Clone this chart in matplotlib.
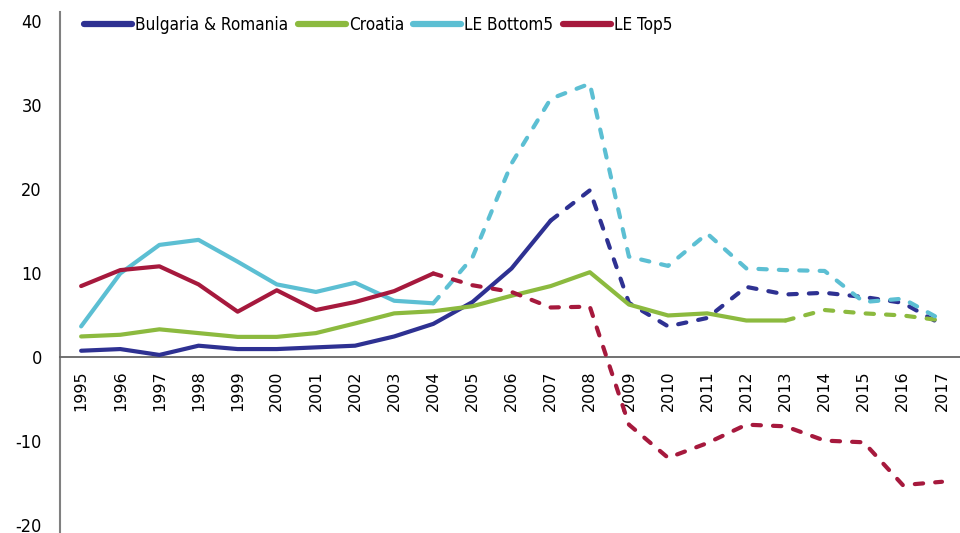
import matplotlib
matplotlib.use("Agg")
import matplotlib.pyplot as plt
from matplotlib import font_manager as fm
from matplotlib.lines import Line2D

years = [str(y) for y in range(1995, 2018)]

bulgaria_romania = [0.7, 0.9, 0.2, 1.3, 0.9, 0.9, 1.1, 1.3, 2.4, 3.9, 6.5, 10.5, 16.2, 19.8,
                    6.4, 3.6, 4.6, 8.3, 7.4, 7.6, 7.1, 6.4, 3.8]
croatia = [2.4, 2.6, 3.25, 2.8, 2.35, 2.35, 2.8, 3.95, 5.15, 5.4, 6.0, 7.25, 8.4, 10.05,
           6.2, 4.9, 5.15, 4.3, 4.3, 5.55, 5.15, 4.9, 4.3]
le_bottom5 = [3.6, 9.9, 13.3, 13.9, 11.3, 8.6, 7.7, 8.8, 6.65, 6.35, 11.8, 23.0, 30.7, 32.5,
              11.9, 10.8, 14.65, 10.5, 10.3, 10.2, 6.5, 6.9, 4.35]
le_top5 = [8.4, 10.3, 10.75, 8.6, 5.35, 7.9, 5.55, 6.5, 7.8, 9.9, 8.5, 7.7, 5.85, 5.95,
           -8.1, -12.05, -10.3, -8.1, -8.3, -10.0, -10.2, -15.3, -14.9]

series_names = ["Bulgaria & Romania", "Croatia", "LE Bottom5", "LE Top5"]
series_values = [bulgaria_romania, croatia, le_bottom5, le_top5]
solid_until = ["2007", "2013", "2004", "2004"]
colors = ["#2E3192", "#8CBA3F", "#5CBFD3", "#A6193D"]

cond_font = fm.FontProperties(family="DejaVu Sans", stretch="condensed", size=12.3)
ytick_font = fm.FontProperties(family="DejaVu Sans", stretch="condensed", size=13)

fig = plt.figure(figsize=(9.6, 5.33), dpi=100)
ax = fig.add_axes([0.0625, 0.0, 0.9375, 0.977])

x = list(range(len(years)))
lw = 3.0
for name, vals, cut, col in zip(series_names, series_values, solid_until, colors):
    k = years.index(cut)
    ax.plot(x[:k + 1], vals[:k + 1], color=col, lw=lw, solid_capstyle="round",
            solid_joinstyle="round", zorder=3)
    ax.plot(x[k:], vals[k:], color=col, lw=lw, linestyle=(0, (2.0, 2.9)),
            dash_capstyle="round", dash_joinstyle="round", zorder=3)

ax.set_xlim(-0.54, 22.46)
ax.set_ylim(-21, 41)
ax.set_yticks([-20, -10, 0, 10, 20, 30, 40])
ax.set_yticklabels(["-20", "-10", "0", "10", "20", "30", "40"])
for t in ax.get_yticklabels():
    t.set_fontproperties(ytick_font)
ax.tick_params(axis="y", length=0, pad=13)
ax.set_xticks(x)
ax.set_xticklabels(years)
ax.tick_params(axis="x", length=0, pad=10, labelrotation=90, labelsize=11.5)

for s in ["top", "right"]:
    ax.spines[s].set_visible(False)
ax.spines["left"].set_color("#808080")
ax.spines["left"].set_linewidth(1.5)
ax.spines["bottom"].set_position(("data", 0))
ax.spines["bottom"].set_color("#666666")
ax.spines["bottom"].set_linewidth(1.3)

handles = [Line2D([0], [0], color=c, lw=4.5, solid_capstyle="round") for c in colors]
leg = ax.legend(handles, series_names, loc="upper left", bbox_to_anchor=(0.01, 1.022),
                ncol=4, frameon=False, handlelength=2.8, handletextpad=0.18,
                columnspacing=0.55, prop=cond_font)

fig.savefig("out.png", dpi=100)
